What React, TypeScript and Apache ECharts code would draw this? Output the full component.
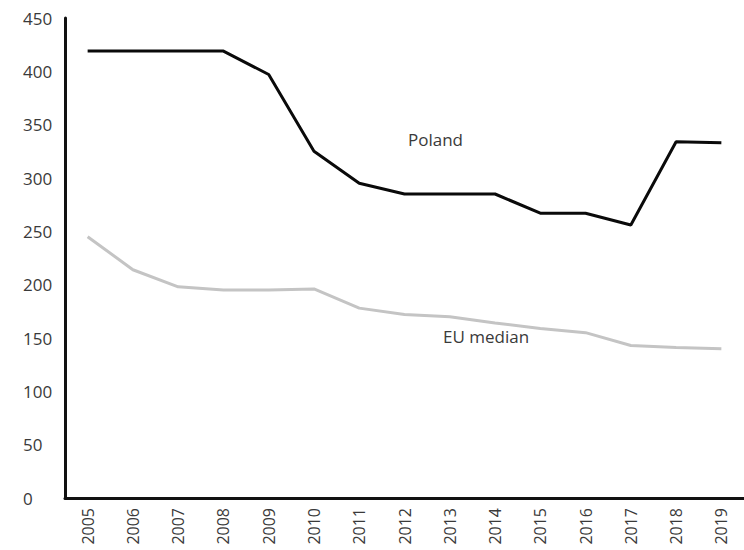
import React, { useEffect, useRef } from "react";
import * as echarts from "echarts";

const years = ["2005","2006","2007","2008","2009","2010","2011","2012","2013","2014","2015","2016","2017","2018","2019"];
const poland = [419, 419, 419, 419, 397, 325, 295, 285, 285, 285, 267, 267, 256, 334, 333];
const euMedian = [245, 214, 198, 195, 195, 196, 178, 172, 170, 164, 159, 155, 143, 141, 140];

export default function App() {
  const ref = useRef<HTMLDivElement>(null);
  useEffect(() => {
    document.body.style.margin = "0";
    const chart = echarts.init(ref.current!, null, { renderer: "svg" });
    const font = "'Open Sans', Lato, sans-serif";
    chart.setOption({
      animation: false,
      backgroundColor: "#ffffff",
      grid: { left: 65, right: -17, top: 18, bottom: 52 },
      xAxis: {
        type: "category",
        data: years,
        boundaryGap: true,
        axisLine: { lineStyle: { color: "#111", width: 3 } },
        axisTick: { show: false },
        axisLabel: { rotate: 90, margin: 10, fontSize: 16, color: "#3a3a3a", fontFamily: font, interval: 0 },
        splitLine: { show: false },
      },
      yAxis: {
        type: "value",
        min: 0,
        max: 450,
        interval: 50,
        axisLine: { show: true, lineStyle: { color: "#111", width: 3 } },
        axisTick: { show: false },
        splitLine: { show: false },
        axisLabel: { align: "left", margin: 42, fontSize: 17, color: "#3a3a3a", fontFamily: font },
      },
      series: [
        {
          name: "Poland",
          type: "line",
          data: poland,
          symbol: "none",
          lineStyle: { color: "#0a0a0a", width: 3 },
        },
        {
          name: "EU median",
          type: "line",
          data: euMedian,
          symbol: "none",
          lineStyle: { color: "#c4c4c4", width: 3 },
        },
      ],
      graphic: [
        { type: "text", left: 408, top: 131, style: { text: "Poland", fontSize: 17, fill: "#3a3a3a", fontFamily: font } },
        { type: "text", left: 443, top: 328, style: { text: "EU median", fontSize: 17, fill: "#3a3a3a", fontFamily: font } },
      ],
    });
    return () => chart.dispose();
  }, []);
  return <div ref={ref} style={{ width: 744, height: 550 }} />;
}
